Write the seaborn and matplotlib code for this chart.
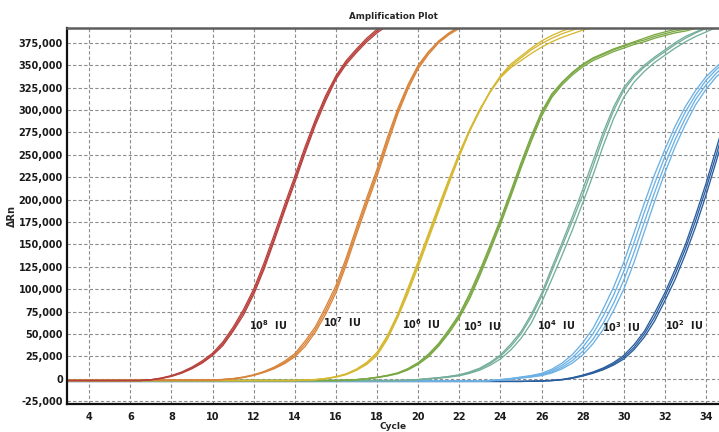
import matplotlib
matplotlib.use("Agg")
import matplotlib.pyplot as plt
from matplotlib.ticker import FuncFormatter
import seaborn as sns
import numpy as np
import pandas as pd

# ---------------- data: ΔRn (thousands) read every half cycle ----------------
GROUPS = ["10^8", "10^7", "10^6", "10^5", "10^4", "10^3", "10^2"]
EXPONENTS = ["8", "7", "6", "5", "4", "3", "2"]
BASELINE = [-2, -2, -2, -2, -2, -2.5, -3]          # flat baseline from cycle 1
RISE_START = [6.5, 10, 14, 16, 19, 23, 25]         # first half-cycle read below

RN_1E8 = [
    [-2, -1.2, 0.5, 3, 6.8, 12, 18.5, 27, 39, 55, 74, 97, 125, 157, 190, 222, 255, 286, 313, 336, 353, 366, 378, 388, 396, 403],
    [-2, -1.1, 0.8, 3.5, 7.5, 13, 20, 28.5, 41, 57.5, 77, 100, 129, 161, 194, 226, 259, 289, 316, 338, 355, 368, 380, 390, 397, 404],
    [-2, -1.3, 0.2, 2.6, 6.2, 11.2, 17.5, 26, 37, 53, 71, 94, 122, 154, 187, 219, 252, 283, 310, 334, 351, 364, 376, 386, 394, 402],
]
RN_1E7 = [
    [-1.5, -0.9, 0, 1.6, 4, 7.5, 12, 18, 26, 39, 55, 76, 100, 131, 165, 198, 230, 265, 298, 326, 348, 364, 376, 385, 392, 398, 402],
    [-1.5, -0.8, 0.2, 1.9, 4.4, 8.1, 13, 19.6, 28, 42, 58, 80, 104, 135, 169, 202, 234, 269, 301, 328, 350, 365, 377, 386, 393, 399, 403],
    [-1.6, -1.0, -0.2, 1.3, 3.7, 7, 11.2, 16.8, 24.5, 36, 52, 72, 96, 127, 161, 194, 226, 261, 295, 323, 346, 362, 375, 384, 391, 397, 401],
]
RN_1E6 = [
    [-2, -1.6, -1, 0.2, 2, 5, 10, 17, 28, 46, 70, 98, 128, 159, 190, 221, 250, 277, 300, 320, 337, 349, 358, 367, 374, 380, 385, 389, 393, 396, 399],
    [-2, -1.6, -1, 0.3, 2.3, 5.5, 10.8, 18.3, 29.5, 48, 72, 101, 131, 162, 193, 223, 252, 278, 301, 320, 336, 347, 355, 363, 370, 376, 381, 385, 389, 392, 395],
    [-2, -1.6, -1.1, 0, 1.8, 4.6, 9.5, 16, 26, 44, 68, 95, 125, 156, 187, 218, 248, 276, 299, 321, 338, 351, 360, 369, 377, 383, 388, 392, 396, 399, 401],
]
RN_1E5 = [
    [-2, -1.6, -1, 0, 1.5, 3.4, 6, 10.5, 17, 26, 38, 53, 70, 92, 118, 146, 175, 206, 238, 268, 296, 316, 330, 341, 350, 357, 362, 367, 371, 375, 378, 382, 385, 388, 390, 393, 395],
    [-2, -1.6, -1, 0.1, 1.7, 3.8, 6.5, 11.3, 18, 27.5, 39.5, 55, 72, 95, 121, 149, 178, 209, 241, 271, 298, 318, 331, 342, 351, 358, 363, 368, 372, 376, 380, 384, 387, 390, 392, 394, 396],
    [-2, -1.6, -1.1, -0.1, 1.3, 3.1, 5.6, 9.8, 16, 24.5, 36.5, 51, 68, 89, 115, 143, 172, 203, 235, 265, 293, 314, 328, 339, 348, 355, 360, 365, 369, 373, 376, 380, 383, 386, 388, 391, 393],
]
RN_1E4 = [
    [-2, -1.6, -1, 0, 1, 2.3, 4, 7, 11, 17, 25, 36, 50, 69, 92, 120, 148, 176, 205, 237, 270, 299, 322, 337, 348, 357, 365, 373, 380, 386, 391, 395, 398],
    [-2, -1.7, -1.2, -0.3, 0.6, 1.8, 3.3, 6, 9.6, 15, 22, 32, 45, 62, 85, 111, 138, 166, 196, 227, 260, 290, 314, 331, 343, 353, 361, 369, 376, 382, 387, 392, 395],
    [-2, -1.5, -0.9, 0.2, 1.2, 2.6, 4.4, 7.6, 11.8, 18.3, 26.5, 38.5, 52.5, 72, 95, 124, 152, 181, 211, 243, 275, 303, 325, 339, 350, 359, 367, 375, 382, 387, 392, 396, 399],
]
RN_1E3 = [
    [-2.5, -2, -1.2, 0, 1.5, 3, 5, 9, 15, 23.5, 35, 50, 70, 93, 120, 152, 186, 218, 248, 275, 298, 317, 333, 345, 355],
    [-2.5, -2.1, -1.4, -0.3, 1.1, 2.4, 4.2, 7.6, 12.8, 20.3, 30.5, 44, 62, 84, 110, 141, 175, 208, 239, 267, 291, 312, 328, 341, 351],
    [-2.5, -1.9, -1, 0.3, 1.9, 3.6, 6, 10.6, 17.5, 27, 40, 56, 78, 102, 130, 163, 196, 228, 256, 282, 304, 322, 337, 348, 358],
    [-2.5, -2.2, -1.6, -0.6, 0.7, 1.9, 3.5, 6.4, 11, 17.5, 26.5, 39, 55, 76, 100, 130, 164, 198, 230, 259, 284, 306, 323, 337, 347],
]
RN_1E2 = [
    [-3, -2.8, -2.5, -2, -1, 0.8, 3.5, 6.8, 11, 16.5, 24, 35, 50, 69, 92, 117, 145, 177, 212, 250, 290],
    [-3, -2.8, -2.6, -2.2, -1.2, 0.4, 3, 6.1, 10, 15.2, 22, 32.5, 46.5, 64.5, 87, 111, 139, 170, 205, 243, 283],
    [-3, -2.8, -2.4, -1.8, -0.8, 1.2, 4, 7.5, 12, 18, 26, 38, 53, 73.5, 96, 122, 150, 183, 218, 257, 296],
]
SERIES = [RN_1E8, RN_1E7, RN_1E6, RN_1E5, RN_1E4, RN_1E3, RN_1E2]

COLORS = ["#b8413d", "#d9853b", "#d6b831", "#7aa843", "#74ae9b", "#6cb1e4", "#2b5e9e"]

Y_TICKS = list(range(-25000, 375001, 25000))
X_TICKS = list(range(4, 35, 2))

# ---------------- long table ----------------
rows = []
for g, base, start, reps in zip(GROUPS, BASELINE, RISE_START, SERIES):
    for r, vals in enumerate(reps):
        cycles = [1.0] + list(start + 0.5 * np.arange(len(vals)))
        values = [base] + list(vals)
        for c, v in zip(cycles, values):
            rows.append({"cycle": c, "rn": v * 1000, "group": g, "rep": f"{g}-{r}"})
df = pd.DataFrame(rows)

# ---------------- figure ----------------
sns.set_theme(style="white")
plt.rcParams["font.family"] = ["DejaVu Sans"]
plt.rcParams["mathtext.default"] = "bf"

fig = plt.figure(figsize=(7.19, 4.32), dpi=100)
ax = fig.add_axes([67 / 719, 28 / 432, 652 / 719, 376 / 432])

palette = dict(zip(GROUPS, COLORS))
sns.lineplot(data=df, x="cycle", y="rn", hue="group", units="rep",
             estimator=None, palette=palette, hue_order=GROUPS[::-1],
             linewidth=0.95, legend=False, ax=ax)

ax.set_xlim(2.92, 34.63)
ax.set_ylim(-28200, 391400)
ax.set_xticks(X_TICKS)
ax.set_yticks(Y_TICKS)
ax.yaxis.set_major_formatter(FuncFormatter(lambda v, p: f"{int(round(v)):,}"))

ax.grid(True, color="#8c8c8c", linestyle=(0, (3, 2)), linewidth=0.8)
ax.set_axisbelow(True)

ax.tick_params(axis="both", length=0, labelsize=7, colors="#1a1a1a")
ax.tick_params(axis="y", pad=3)
ax.tick_params(axis="x", pad=6)
for lab in ax.get_xticklabels() + ax.get_yticklabels():
    lab.set_fontweight("bold")

for side in ["left", "bottom"]:
    ax.spines[side].set_color("#111111")
    ax.spines[side].set_linewidth(1.6)
ax.spines["top"].set_color("#5e5e5e")
ax.spines["top"].set_linewidth(1.8)
ax.spines["right"].set_visible(False)

ax.set_title("Amplification Plot", fontsize=6.3, fontweight="bold", pad=6.5)
ax.set_xlabel("Cycle", fontsize=6.5, fontweight="bold", labelpad=0)
ax.set_ylabel("ΔRn", fontsize=7, fontweight="bold", labelpad=1.5)

label_x = [11.77, 15.35, 19.19, 22.19, 25.76, 28.95, 32.0]
label_y = [54400, 58000, 55500, 53600, 54700, 52500, 54400]
for e, lx, ly in zip(EXPONENTS, label_x, label_y):
    ax.text(lx, ly, "10$^{" + e + "}$  IU", fontsize=7, fontweight="bold",
            ha="left", va="baseline", color="#1a1a1a", zorder=5)

fig.savefig("out.png", dpi=100)
